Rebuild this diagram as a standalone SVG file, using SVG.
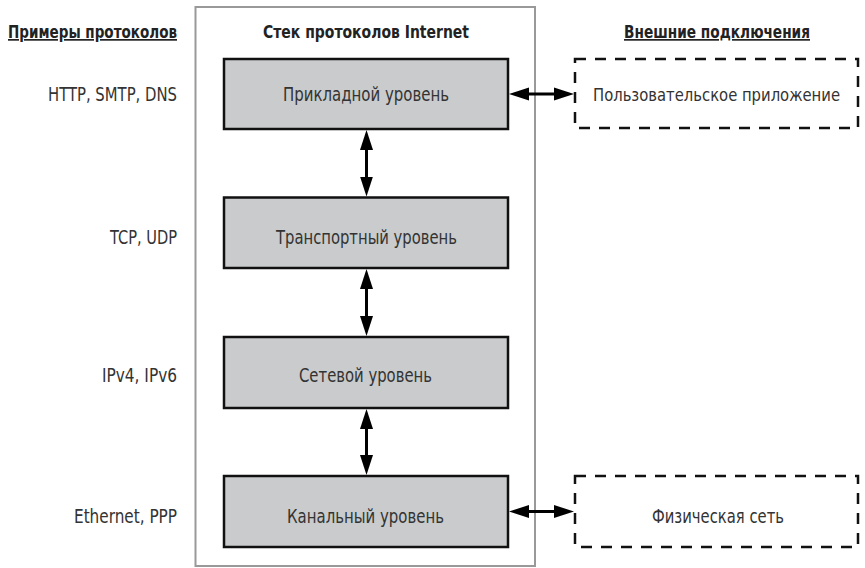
<svg xmlns="http://www.w3.org/2000/svg" width="865" height="568" viewBox="0 0 865 568">
<defs>
<style>
text{font-family:"DejaVu Sans Condensed","DejaVu Sans","Liberation Sans",sans-serif;fill:#333;font-size:19.5px}
.t{font-weight:bold;font-size:17px;fill:#222}
.u{text-decoration:underline}
.e{text-anchor:end}
.m{text-anchor:middle}
.s{font-size:17.5px}
.layer{fill:#c9cbcc;stroke:#111;stroke-width:2.5}
.ext{fill:#fff;stroke:#111;stroke-width:2.5;stroke-dasharray:11 9}
.frame{fill:none;stroke:#999;stroke-width:2}
.conn{stroke:#000;stroke-width:3;fill:none;marker-start:url(#ah);marker-end:url(#ah)}
</style>
<marker id="ah" markerUnits="userSpaceOnUse" markerWidth="20" markerHeight="14" refX="12" refY="7" orient="auto-start-reverse" viewBox="0 0 20 14">
<path d="M0,0.5 L20,7 L0,13.5 z" fill="#000"/>
</marker>
</defs>
<rect class="frame" x="195.5" y="7" width="339.5" height="559"/>
<text class="t u e" x="177" y="38" textLength="169" lengthAdjust="spacingAndGlyphs">Примеры протоколов</text>
<text class="t m" x="366" y="38" textLength="206" lengthAdjust="spacingAndGlyphs">Стек протоколов Internet</text>
<text class="t u m" x="717" y="38" textLength="186" lengthAdjust="spacingAndGlyphs">Внешние подключения</text>
<text class="e" x="177" y="100.5" textLength="129" lengthAdjust="spacingAndGlyphs">HTTP, SMTP, DNS</text>
<text class="e" x="177" y="243.5" textLength="67" lengthAdjust="spacingAndGlyphs">TCP, UDP</text>
<text class="e" x="177" y="382" textLength="75" lengthAdjust="spacingAndGlyphs">IPv4, IPv6</text>
<text class="e" x="177" y="522.5" textLength="103" lengthAdjust="spacingAndGlyphs">Ethernet, PPP</text>
<g id="app"><rect class="layer" x="224" y="59" width="284" height="70"/><text class="m" x="366" y="100.5" textLength="166" lengthAdjust="spacingAndGlyphs">Прикладной уровень</text></g>
<g id="transport"><rect class="layer" x="224" y="197.5" width="284" height="70.5"/><text class="m" x="366.5" y="243.5" textLength="181" lengthAdjust="spacingAndGlyphs">Транспортный уровень</text></g>
<g id="network"><rect class="layer" x="224" y="337" width="284" height="71"/><text class="m" x="365.5" y="382" textLength="133" lengthAdjust="spacingAndGlyphs">Сетевой уровень</text></g>
<g id="link"><rect class="layer" x="224" y="476" width="284" height="71"/><text class="m" x="365.5" y="522.5" textLength="157" lengthAdjust="spacingAndGlyphs">Канальный уровень</text></g>
<g id="userapp"><rect class="ext" x="575" y="59" width="283" height="69"/><text class="m s" x="716.5" y="100.5" textLength="247" lengthAdjust="spacingAndGlyphs">Пользовательское приложение</text></g>
<g id="phys"><rect class="ext" x="575" y="476" width="283" height="71"/><text class="m" x="718" y="522.5" textLength="132" lengthAdjust="spacingAndGlyphs">Физическая сеть</text></g>
<g id="connectors">
<line class="conn" x1="366.5" y1="138" x2="366.5" y2="188.5"/>
<line class="conn" x1="366.5" y1="277" x2="366.5" y2="328"/>
<line class="conn" x1="366.5" y1="417" x2="366.5" y2="467"/>
<line class="conn" x1="517" y1="94" x2="566" y2="94"/>
<line class="conn" x1="517" y1="511.5" x2="566" y2="511.5"/>
</g>
</svg>
